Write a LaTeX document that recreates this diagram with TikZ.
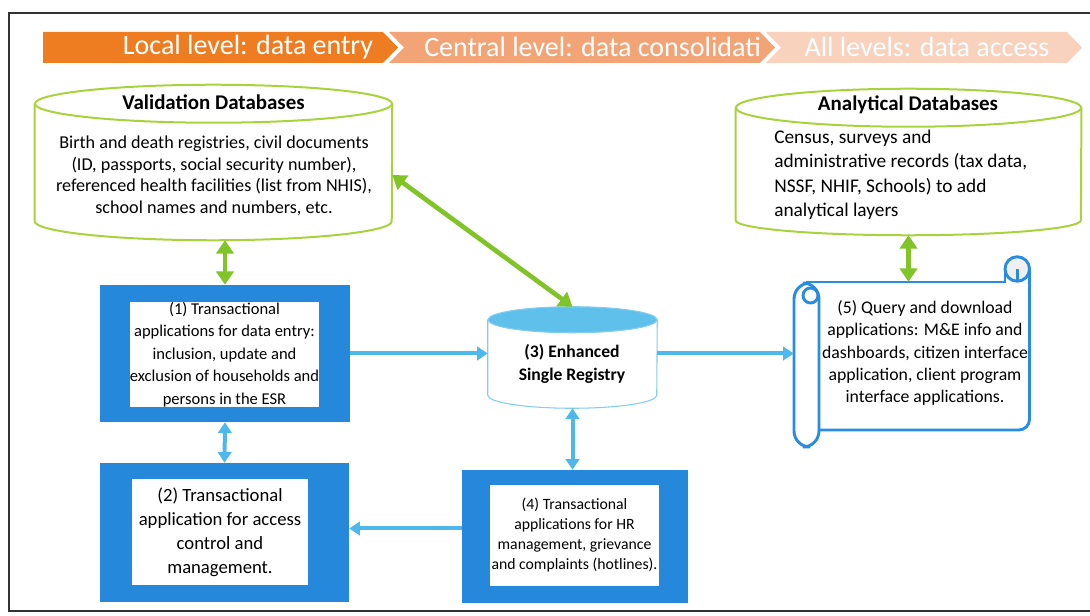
\documentclass[tikz,border=0pt]{standalone}
\usepackage{fontspec}
\setmainfont{Carlito}
\usetikzlibrary{arrows.meta,positioning,calc}

\definecolor{segone}{RGB}{238,125,34}
\definecolor{segtwo}{RGB}{243,164,118}
\definecolor{segthree}{RGB}{249,210,190}
\definecolor{dbgreen}{RGB}{170,210,60}
\definecolor{arrgreen}{RGB}{128,196,40}
\definecolor{boxblue}{RGB}{38,136,219}
\definecolor{arrblue}{RGB}{77,184,236}
\definecolor{esrtop}{RGB}{95,192,236}
\definecolor{esrline}{RGB}{130,205,240}
\definecolor{scrollblue}{RGB}{40,140,225}
\definecolor{framegray}{RGB}{50,50,50}

\begin{document}
\begin{tikzpicture}[x=0.75pt, y=-0.75pt]
        \tikzstyle{db} = [rectangle, inner sep=0pt]
        \tikzstyle{dbline} = [draw=dbgreen, line width=1.5pt]
        \tikzstyle{outerbox} = [rectangle, fill=boxblue, inner sep=0pt]
        \tikzstyle{innerbox} = [rectangle, fill=white, inner sep=0pt,
                                align=center]
        \tikzstyle{head} = [text=white, inner sep=0pt,
                            font=\fontsize{21}{25}\selectfont]
        \tikzstyle{dbtitle} = [inner sep=0pt,
                               font=\bfseries\fontsize{15.7}{19}\selectfont]
        \tikzstyle{greenarrow} = [draw=arrgreen, line width=3.5pt,
          {Triangle[length=10pt,width=13pt]}-{Triangle[length=10pt,width=13pt]}]
        \tikzstyle{bluearrow} = [draw=arrblue, line width=3pt,
          -{Triangle[length=8pt,width=10pt]}]
        \tikzstyle{bluetwoway} = [bluearrow,
          {Triangle[length=8pt,width=10pt]}-{Triangle[length=8pt,width=10pt]}]
        \tikzstyle{scrl} = [draw=scrollblue, line width=2.2pt]

        \useasboundingbox (0,0) rectangle (1090,616);
        \draw[framegray, line width=1.2pt]
             (1095,13) -- (9,13) -- (9,611) -- (1095,611);

        % header
        \fill[segone] (43,32) -- (383,32) -- (398,47.5) -- (383,63)
                      -- (43,63) -- cycle;
        \fill[segtwo] (389,32) -- (760,32) -- (775,47.5) -- (760,63)
                      -- (389,63) -- (404,47.5) -- cycle;
        \node[head, anchor=west] (central) at (424,47)
          {Central level: data consolidati};
        \fill[segthree] (766,32) -- (1067,32) -- (1082,47.5) -- (1067,63)
                        -- (766,63) -- (781,47.5) -- cycle;
        \node[head] (local) at (248,47) {Local level: data entry};
        \node[head] (all) at (927,47) {All levels: data access};

        % databases
        \node[db, minimum width=267.75pt, minimum height=116.25pt]
          (VDB) at (213.5,162.5) {};
        \draw[dbline, fill=white] ($(VDB.north west)+(0,19)$)
          -- ($(VDB.south west)+(0,-19)$)
          arc[start angle=180, end angle=360, x radius=133.875pt,
              y radius=14.25pt]
          -- ($(VDB.north east)+(0,19)$);
        \draw[dbline] ($(VDB.north)+(0,19)$)
          ellipse [x radius=133.875pt, y radius=14.25pt];
        \node[dbtitle] (VDBtitle) at (213.5,102) {Validation Databases};
        \node[align=center, inner sep=0pt,
              font=\fontsize{13.6}{16.3}\selectfont] (VDBtext) at (214,176)
          {Birth and death registries, civil documents\\
           (ID, passports, social security number),\\
           referenced health facilities (list from NHIS),\\
           school names and numbers, etc.};

        \node[db, minimum width=259pt, minimum height=109.5pt]
          (ADB) at (908.5,162) {};
        \draw[dbline, fill=white] ($(ADB.north west)+(0,19)$)
          -- ($(ADB.south west)+(0,-15)$)
          arc[start angle=180, end angle=360, x radius=129.5pt,
              y radius=11.25pt]
          -- ($(ADB.north east)+(0,19)$);
        \draw[dbline] ($(ADB.north)+(0,19)$)
          ellipse [x radius=129.5pt, y radius=14.25pt];
        \node[dbtitle] (ADBtitle) at (908,105) {Analytical Databases};
        \node[align=left, anchor=west, inner sep=0pt,
              font=\fontsize{14.5}{18.3}\selectfont] (ADBtext) at (774,175)
          {Census, surveys and\\
           administrative records (tax data,\\
           NSSF, NHIF, Schools) to add\\
           analytical layers};

        \node[db, minimum width=126.75pt, minimum height=75.75pt]
          (ESR) at (572.5,357.5) {};
        \draw[draw=esrline, line width=0.8pt, fill=white]
          ($(ESR.north west)+(0,13)$) -- ($(ESR.south west)+(0,-13)$)
          arc[start angle=180, end angle=360, x radius=63.375pt,
              y radius=9.75pt]
          -- ($(ESR.north east)+(0,13)$);
        \draw[draw=esrline, line width=0.8pt, fill=esrtop]
          ($(ESR.north)+(0,13)$) ellipse [x radius=63.375pt, y radius=9.75pt];
        \node[align=center, inner sep=0pt,
              font=\bfseries\fontsize{13.2}{17.5}\selectfont] (ESRtext)
          at (572,364) {(3) Enhanced\\Single Registry};

        % transactional applications
        \node[outerbox, minimum width=187.5pt, minimum height=102.75pt]
          (T1) at (225,353.5) {};
        \node[innerbox, minimum width=140.25pt, minimum height=78.75pt,
              font=\fontsize{12.4}{16.8}\selectfont] (T1text) at (224.5,354.5)
          {(1) Transactional\\applications for data entry:\\
           inclusion, update and\\exclusion of households and\\
           persons in the ESR};
        \node[outerbox, minimum width=186.75pt, minimum height=104.25pt]
          (T2) at (224.5,532.5) {};
        \node[innerbox, minimum width=132pt, minimum height=79.5pt,
              font=\fontsize{14}{18}\selectfont] (T2text) at (220,532)
          {(2) Transactional\\application for access\\control and\\
           management.};
        \node[outerbox, minimum width=169.5pt, minimum height=99.75pt]
          (T4) at (575,536.5) {};
        \node[innerbox, minimum width=126.75pt, minimum height=75.75pt,
              font=\fontsize{11.8}{15}\selectfont] (T4text) at (574.5,535.5)
          {(4) Transactional\\applications for HR\\management, grievance\\
           and complaints (hotlines).};

        % query scroll
        \draw[scrl, rounded corners=8] (819,430) -- (1029.5,430)
                                       -- (1029.5,269);
        \draw[scrl] (806,282) -- (1005,282) -- (1005,269);
        \draw[scrl, fill=gray!12] (1017.25,269) circle (12.25);
        \draw[scrl] (1017.25,269) -- (1017.25,282);
        \draw[scrl, fill=white, rounded corners=12] (794,283) rectangle (819,447);
        \draw[scrl] (810.5,295.5) circle (7.5);
        \node[align=center, inner sep=0pt, minimum width=196.5pt,
              minimum height=106.5pt,
              font=\fontsize{13.3}{16.7}\selectfont] (QD) at (925,353)
          {(5) Query and download\\applications: M\&E info and\\
           dashboards, citizen interface\\application, client program\\
           interface applications.};

        % connectors
        \coordinate (hrout) at ($(T4.west)+(0,-8)$);
        \path[greenarrow] (T1.north) -- (T1.north |- VDB.south);
        \path[greenarrow] (VDB.-4) -- (ESR.north);
        \path[greenarrow] (ADB.south) -- (ADB.south |- QD.north);
        \path[bluearrow] (T1.east) -- (T1.east -| ESR.west);
        \path[bluearrow] (T1.east -| ESR.east) -- (T1.east -| QD.west);
        \path[bluetwoway] (T1.south) -- (T2.north);
        \path[bluetwoway] (ESR.south) -- (ESR.south |- T4.north);
        \path[bluearrow] (hrout) -- (hrout -| T2.east);
\end{tikzpicture}
\end{document}
